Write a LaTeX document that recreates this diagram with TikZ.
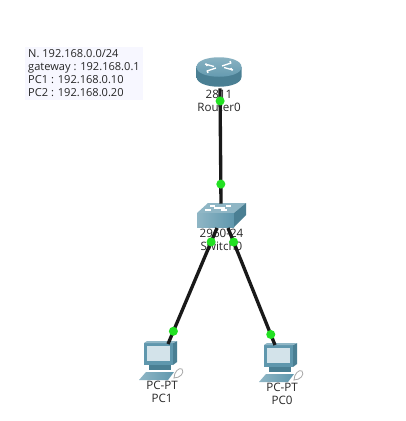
\documentclass[tikz,border=0pt]{standalone}
\usepackage{fontspec}
\setmainfont{Open Sans}
\usepackage{tikz}
\usetikzlibrary{arrows.meta,positioning,calc}
\definecolor{nettealdark}{HTML}{4A7F93}
\definecolor{netteal}{HTML}{5F97AD}
\definecolor{nettealmid}{HTML}{8FB6C5}
\definecolor{nettealpale}{HTML}{D3E3EA}
\definecolor{netlink}{HTML}{22E022}
\tikzset{
  net/device/.style={inner sep=0pt},
  net/label/.style={font=\fontsize{8.7}{9.75}\selectfont, align=center, inner sep=0pt, text=black!85},
  net/note/.style={font=\fontsize{8.3}{9.75}\selectfont, align=left, inner sep=0pt, fill=blue!3, text=black!85, minimum width=88.5pt, minimum height=39.75pt},
  net/line/.style={line width=2.5pt, black!90},
  net/dot/.style={circle, fill=netlink, inner sep=0pt, minimum size=6.8pt},
  pics/routericon/.style={code={
    \shade[left color=nettealdark, middle color=nettealpale, right color=nettealdark] (-22.5,-5) -- (-22.5,5) .. controls (-22,18) and (22,18) .. (22.5,5) -- (22.5,-5) -- cycle;
    \shade[top color=nettealmid, bottom color=netteal] (-22.5,-5) .. controls (-22.5,-18) and (22.5,-18) .. (22.5,-5) .. controls (22.5,8) and (-22.5,8) .. (-22.5,-5) -- cycle;
    \draw[white, line width=1pt] (-14,-8) -- (-5,-5.5) (-13,-8.5) -- (-12,-6) (14,-2) -- (5,-4.5) (13,-1.5) -- (12,-4)
      (-12,-1) -- (-3,-4) (-11,1) -- (-12,-1.5) (12,-9) -- (3,-6) (11,-11) -- (12,-8.5);
  }},
  pics/switchicon/.style={code={
    \fill[nettealmid] (-23,-2) -- (-12,-12) -- (26,-12) -- (14,-2) -- cycle;
    \shade[left color=nettealmid, right color=netteal] (-23,-2) rectangle (14,12);
    \fill[nettealdark] (14,-2) -- (26,-12) -- (26,0) -- (14,12) -- cycle;
    \draw[white, line width=.8pt] (-10,-9) -- (-5,-9) (-15,-5) -- (-9,-5) (6,-9) -- (11,-9) (1,-5) -- (7,-5) (-6,-7) -- (5,-7);
  }},
  pics/pcicon/.style={code={
    \fill[netteal] (-16,-18) rectangle (13,4);
    \fill[nettealdark] (13,-18) -- (17,-20) -- (17,1) -- (13,4) -- cycle;
    \fill[nettealmid] (-16,-18) -- (-13,-20) -- (17,-20) -- (13,-18) -- cycle;
    \fill[nettealpale] (-13,-15) rectangle (10,0);
    \fill[nettealdark] (-11,4) rectangle (11,9);
    \shade[left color=nettealmid, right color=netteal] (-21,19) -- (-14,11) -- (14,11) -- (8,19) -- cycle;
    \draw[black!35, line width=.6pt] (14,17) .. controls (20,17) and (25,12) .. (22,8) .. controls (19,6) and (14,11) .. (14,17) -- cycle;
  }}
}
\begin{document}
\begin{tikzpicture}[x=0.75pt,y=-0.75pt]
  \useasboundingbox (0,0) rectangle (406,421);
  \node[net/note] (subnet) at (84,73.5) {N. 192.168.0.0/24\\gateway : 192.168.0.1\\PC1 : 192.168.0.10\\PC2 : 192.168.0.20};

  \pic at (219,72) {routericon};
  \pic at (220,215) {switchicon};
  \pic at (160,361) {pcicon};
  \pic at (280,363) {pcicon};

  \node[net/device, minimum width=34.5pt, minimum height=22.5pt] (router) at (220,73) {};
  \node[net/device, minimum width=36pt, minimum height=18pt] (switch) at (221,216) {};
  \node[net/device, minimum width=24pt, minimum height=25.5pt] (pc1) at (160,361) {};
  \node[net/device, minimum width=24pt, minimum height=25.5pt] (pc0) at (280,363) {};

  \node[net/label] (routerlabel) at (219,100.5) {2811\\Router0};
  \node[net/label] (switchlabel) at (221.5,239.5) {2960-24\\Switch0};
  \node[net/label] (pc1label) at (162,391.5) {PC-PT\\PC1};
  \node[net/label] (pc0label) at (282,393.5) {PC-PT\\PC0};

  \coordinate (swleft) at (217,228);
  \coordinate (swright) at (228,228);
  \coordinate (pc1top) at (168,344);
  \coordinate (pc0top) at (275,345);

  \draw[net/line] (router.south) -- (switch.north)
    node[net/dot, pos=0.11] (dotrouter) {} node[net/dot, pos=0.83] (dotswitch) {};
  \draw[net/line] (swleft) -- (pc1top)
    node[net/dot, pos=0.12] (dotswleft) {} node[net/dot, pos=0.89] (dotpc1) {};
  \draw[net/line] (swright) -- (pc0top)
    node[net/dot, pos=0.12] (dotswright) {} node[net/dot, pos=0.91] (dotpc0) {};
\end{tikzpicture}
\end{document}
